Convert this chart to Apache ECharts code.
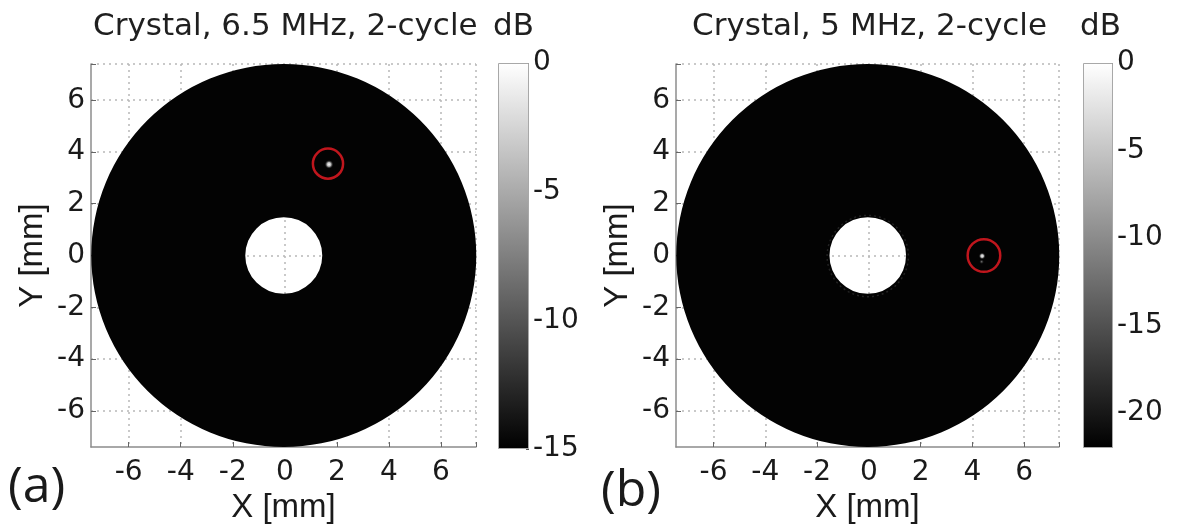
<!DOCTYPE html>
<html>
<head>
<meta charset="utf-8">
<script src="https://cdn.jsdelivr.net/npm/echarts@6/dist/echarts.min.js"></script>
<style>
  html, body { margin: 0; padding: 0; background: #fff; }
  #chart { width: 1183px; height: 531px; }
</style>
</head>
<body>
<div id="chart"></div>
<script>
// ---------- data ----------
const panelTitles = ['Crystal, 6.5 MHz, 2-cycle', 'Crystal, 5 MHz, 2-cycle'];
const panelLetters = ['(a)', '(b)'];
const unitLabel = 'dB';
const xName = 'X [mm]';
const yName = 'Y [mm]';
const xRange = [-7.45, 7.35];
const yRange = [-7.4, 7.4];
const xTicks = [-6, -4, -2, 0, 2, 4, 6];
const yTicks = [-6, -4, -2, 0, 2, 4, 6];
// annulus: centre x, centre y, outer radius, inner radius (mm)
const annulusA = [[-0.04, 0, 7.4, 1.48]];
const annulusB = [[-0.04, 0, 7.4, 1.48]];
// faint rim around the hole in (b): centre x, centre y, radius
const holeRimB = [[-0.04, -0.02, 1.57]];
// hot spots: x, y, radius x, radius y (mm)
const spotA = [[1.70, 3.52, 0.17, 0.17]];
const spotB = [[4.38, -0.02, 0.32, 0.13], [4.36, -0.24, 0.1, 0.09]];
// red markers: x, y, radius (mm)
const markerA = [[1.66, 3.55, 0.58]];
const markerB = [[4.45, 0.0, 0.63]];
// colour bars (dB)
const cbRangeA = [-15, 0];
const cbRangeB = [-22, 0];
const cbTicksA = [-15, -10, -5, 0];
const cbTicksB = [-20, -15, -10, -5, 0];

// ---------- rendering ----------
const chart = echarts.init(document.getElementById('chart'));
const tickFont = 'DejaVu Sans';
const nameFont = 'Liberation Sans';

function ringRender(fill) {
  return function (params, api) {
    const c = api.coord([api.value(0), api.value(1)]);
    const o = api.size([api.value(2), api.value(2)]);
    const i = api.size([api.value(3), api.value(3)]);
    const cx = c[0], cy = c[1];
    const rx = o[0], ry = o[1], ix = i[0], iy = i[1];
    const d = 'M' + (cx - rx) + ',' + cy +
      ' A' + rx + ',' + ry + ' 0 1,0 ' + (cx + rx) + ',' + cy +
      ' A' + rx + ',' + ry + ' 0 1,0 ' + (cx - rx) + ',' + cy + ' Z' +
      ' M' + (cx - ix) + ',' + cy +
      ' A' + ix + ',' + iy + ' 0 1,1 ' + (cx + ix) + ',' + cy +
      ' A' + ix + ',' + iy + ' 0 1,1 ' + (cx - ix) + ',' + cy + ' Z';
    return { type: 'path', shape: { pathData: d }, style: { fill: fill } };
  };
}
function circleRender(stroke, width, dash) {
  return function (params, api) {
    const c = api.coord([api.value(0), api.value(1)]);
    const s = api.size([api.value(2), api.value(2)]);
    return { type: 'ellipse', shape: { cx: c[0], cy: c[1], rx: s[0], ry: s[1] },
      style: { fill: 'none', stroke: stroke, lineWidth: width, lineDash: dash || null } };
  };
}
function spotRender(params, api) {
  const c = api.coord([api.value(0), api.value(1)]);
  const s = api.size([api.value(2), api.value(3)]);
  const strong = params.dataIndex === 0;
  return { type: 'ellipse', shape: { cx: c[0], cy: c[1], rx: s[0], ry: s[1] },
    style: { fill: { type: 'radial', x: 0.5, y: 0.5, r: 0.5, colorStops: [
      { offset: 0, color: strong ? 'rgba(255,255,255,1)' : 'rgba(150,150,150,0.8)' },
      { offset: 0.45, color: strong ? 'rgba(210,210,210,0.85)' : 'rgba(90,90,90,0.5)' },
      { offset: 1, color: 'rgba(40,40,40,0)' } ] } } };
}

function plotXAxis(gi) {
  return {
    type: 'value', gridIndex: gi, min: xRange[0], max: xRange[1],
    name: xName, nameLocation: 'middle', nameGap: 40,
    nameTextStyle: { fontFamily: nameFont, fontSize: 33, color: '#1a1a1a' },
    axisLine: { show: true, onZero: false, lineStyle: { color: '#8c8c8c', width: 1.5 } },
    axisTick: { show: true, inside: true, length: 5, customValues: xTicks.concat([xRange[1]]),
      lineStyle: { color: '#666', width: 1 } },
    axisLabel: { customValues: xTicks, margin: 12, fontFamily: tickFont, fontSize: 28, color: '#1a1a1a' },
    splitLine: { show: true, lineStyle: { type: [2, 4], color: '#b8b8b8', width: 1.5 } }
  };
}
function plotYAxis(gi) {
  return {
    type: 'value', gridIndex: gi, min: yRange[0], max: yRange[1],
    name: yName, nameLocation: 'middle', nameGap: 42, nameRotate: 90,
    nameTextStyle: { fontFamily: nameFont, fontSize: 33, color: '#1a1a1a' },
    axisLine: { show: true, onZero: false, lineStyle: { color: '#8c8c8c', width: 1.5 } },
    axisTick: { show: true, inside: true, length: 5, customValues: yTicks.concat([yRange[1]]),
      lineStyle: { color: '#666', width: 1 } },
    axisLabel: { customValues: yTicks, margin: 6, fontFamily: tickFont, fontSize: 28, color: '#1a1a1a' },
    splitLine: { show: true, lineStyle: { type: [2, 4], color: '#b8b8b8', width: 1.5 } }
  };
}
function cbXAxis(gi) {
  return { type: 'category', gridIndex: gi, data: ['cb'], show: false };
}
function cbYAxis(gi, range, ticks) {
  return {
    type: 'value', gridIndex: gi, min: range[0], max: range[1], position: 'right',
    axisLine: { show: false },
    axisTick: { show: true, inside: true, length: 3, customValues: ticks, lineStyle: { color: '#555' } },
    axisLabel: { customValues: ticks, margin: 4, fontFamily: tickFont, fontSize: 28, color: '#1a1a1a' },
    splitLine: { show: false }
  };
}
const grayGradient = new echarts.graphic.LinearGradient(0, 0, 0, 1, [
  { offset: 0, color: '#ffffff' }, { offset: 1, color: '#000000' }
]);

const option = {
  animation: false,
  backgroundColor: '#ffffff',
  grid: [
    { left: 91, top: 64, width: 385, height: 383 },
    { left: 676, top: 64, width: 383, height: 383 },
    { left: 498, top: 63, width: 31, height: 386 },
    { left: 1083, top: 63, width: 30, height: 385 }
  ],
  xAxis: [plotXAxis(0), plotXAxis(1), cbXAxis(2), cbXAxis(3)],
  yAxis: [plotYAxis(0), plotYAxis(1), cbYAxis(2, cbRangeA, cbTicksA), cbYAxis(3, cbRangeB, cbTicksB)],
  graphic: [
    { type: 'text', x: 93, y: 27, style: { text: panelTitles[0], font: '31px "DejaVu Sans"', fill: '#1f1f1f', verticalAlign: 'middle' } },
    { type: 'text', x: 493, y: 27, style: { text: unitLabel, font: '31px "DejaVu Sans"', fill: '#1f1f1f', verticalAlign: 'middle' } },
    { type: 'text', x: 692, y: 27, style: { text: panelTitles[1], font: '31px "DejaVu Sans"', fill: '#1f1f1f', verticalAlign: 'middle' } },
    { type: 'text', x: 1080, y: 27, style: { text: unitLabel, font: '31px "DejaVu Sans"', fill: '#1f1f1f', verticalAlign: 'middle' } },
    { type: 'text', x: 8, y: 488, style: { text: panelLetters[0], font: '50px "Open Sans"', fill: '#1a1a1a', verticalAlign: 'middle' } },
    { type: 'text', x: 601, y: 492, style: { text: panelLetters[1], font: '50px "Open Sans"', fill: '#1a1a1a', verticalAlign: 'middle' } }
  ],
  series: [
    { type: 'custom', xAxisIndex: 0, yAxisIndex: 0, data: annulusA, encode: { x: 0, y: 1 }, renderItem: ringRender('#030303'), silent: true, z: 3 },
    { type: 'custom', xAxisIndex: 0, yAxisIndex: 0, data: spotA, encode: { x: 0, y: 1 }, renderItem: spotRender, silent: true, z: 4 },
    { type: 'custom', xAxisIndex: 0, yAxisIndex: 0, data: markerA, encode: { x: 0, y: 1 }, renderItem: circleRender('#c0161d', 2.5), silent: true, z: 5 },
    { type: 'custom', xAxisIndex: 1, yAxisIndex: 1, data: annulusB, encode: { x: 0, y: 1 }, renderItem: ringRender('#030303'), silent: true, z: 3 },
    { type: 'custom', xAxisIndex: 1, yAxisIndex: 1, data: holeRimB, encode: { x: 0, y: 1 }, renderItem: circleRender('rgba(60,60,60,0.55)', 1.5, [2, 3]), silent: true, z: 4 },
    { type: 'custom', xAxisIndex: 1, yAxisIndex: 1, data: spotB, encode: { x: 0, y: 1 }, renderItem: spotRender, silent: true, z: 4 },
    { type: 'custom', xAxisIndex: 1, yAxisIndex: 1, data: markerB, encode: { x: 0, y: 1 }, renderItem: circleRender('#c0161d', 2.5), silent: true, z: 5 },
    { type: 'bar', xAxisIndex: 2, yAxisIndex: 2, data: [cbRangeA[0]], barWidth: '100%', silent: true,
      itemStyle: { color: grayGradient, borderColor: '#a8a8a8', borderWidth: 1 } },
    { type: 'bar', xAxisIndex: 3, yAxisIndex: 3, data: [cbRangeB[0]], barWidth: '100%', silent: true,
      itemStyle: { color: grayGradient, borderColor: '#a8a8a8', borderWidth: 1 } }
  ]
};
chart.setOption(option);
</script>
</body>
</html>
